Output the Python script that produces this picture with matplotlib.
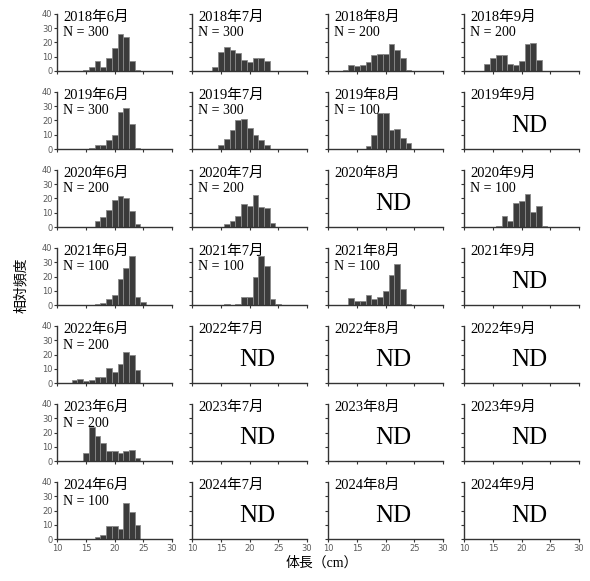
import matplotlib
matplotlib.use("Agg")
import matplotlib.pyplot as plt

# body length classes (cm, class centre)
body_length = [11, 12, 13, 14, 15, 16, 17, 18, 19, 20, 21, 22, 23, 24, 25, 26, 27, 28, 29]

# relative frequency (%) per class, one list per survey month
freq_2018_06 = [0, 0, 0, 0, 1, 3, 7, 3, 9, 16, 25.5, 24, 7, 1, 0, 0, 0, 0, 0]
freq_2018_07 = [0, 0, 0, 2.5, 13, 16.5, 14.5, 12.5, 7.5, 6, 9, 9.2, 7, 0, 0, 0, 0, 0, 0]
freq_2018_08 = [0, 0, 0.5, 4, 3.5, 4, 6.5, 11, 12, 12, 19, 14.5, 9, 1, 0, 0, 0, 0, 0]
freq_2018_09 = [0, 0, 0, 5, 9, 11.5, 11, 5, 4.5, 7, 18.5, 19.5, 7.5, 0, 0.3, 0, 0, 0, 0]
freq_2019_06 = [0, 0, 0, 0, 0, 1, 3, 3, 6, 10, 26, 29, 17.5, 1, 0, 0, 0, 0, 0]
freq_2019_07 = [0, 0, 0, 0, 2.5, 7, 13, 20.5, 21, 15, 10, 6, 3, 0, 0, 0, 0, 0, 0]
freq_2019_08 = [0, 0, 0, 0, 0, 0, 2, 10, 25, 25, 13, 14, 8, 4, 0, 0, 0, 0, 0]
freq_2020_06 = [0, 0, 0, 0, 0, 0, 4, 7, 12, 19, 21.5, 20, 11.5, 2.5, 0, 0, 0, 0, 0]
freq_2020_07 = [0, 0, 0, 0, 0, 2, 4.5, 8, 16, 15, 22.5, 14, 13, 3, 0, 0, 0, 0, 0]
freq_2020_09 = [0, 0, 0, 0, 0, 0.5, 7.5, 4.5, 16.5, 18.5, 23, 10.5, 14.5, 0.5, 0, 0, 0, 0, 0]
freq_2021_06 = [0, 0, 0, 0, 0, 0, 0.5, 1.5, 4, 7, 18, 26, 34, 6, 2, 0, 0, 0, 0]
freq_2021_07 = [0, 0, 0, 0, 0, 0.5, 0, 0.5, 6, 6, 20, 34, 27, 4, 1, 0, 0, 0, 0]
freq_2021_08 = [0, 0, 0, 5, 3, 3, 7, 4.5, 6, 10, 21, 29, 11, 0.5, 0, 0, 0, 0, 0]
freq_2022_06 = [0, 0, 2, 3, 1.5, 2, 4.5, 4.5, 10.5, 7.5, 13.5, 21.5, 19.5, 9, 0, 0, 0, 0, 0]
freq_2023_06 = [0, 0, 0, 0, 5.5, 24, 17.5, 13, 7.5, 7, 6, 7, 8, 2.5, 0.5, 0, 0, 0, 0]
freq_2024_06 = [0, 0, 0, 0, 0, 0, 1.5, 3, 9.5, 9.5, 7.5, 25, 19, 10, 0, 0, 0, 0, 0]

years = [2018, 2019, 2020, 2021, 2022, 2023, 2024]
months = [6, 7, 8, 9]

# number measured in Jun..Sep of each year (None = no data)
n_2018 = [300, 300, 200, 200]
n_2019 = [300, 300, 100, None]
n_2020 = [200, 200, None, 100]
n_2021 = [100, 100, 100, None]
n_2022 = [200, None, None, None]
n_2023 = [200, None, None, None]
n_2024 = [100, None, None, None]

x_ticks = [10, 15, 20, 25, 30]
y_ticks = [0, 10, 20, 30, 40]

freqs = {
    (2018, 6): freq_2018_06, (2018, 7): freq_2018_07,
    (2018, 8): freq_2018_08, (2018, 9): freq_2018_09,
    (2019, 6): freq_2019_06, (2019, 7): freq_2019_07, (2019, 8): freq_2019_08,
    (2020, 6): freq_2020_06, (2020, 7): freq_2020_07, (2020, 9): freq_2020_09,
    (2021, 6): freq_2021_06, (2021, 7): freq_2021_07, (2021, 8): freq_2021_08,
    (2022, 6): freq_2022_06, (2023, 6): freq_2023_06, (2024, 6): freq_2024_06,
}
sample_n = dict(zip(years, [n_2018, n_2019, n_2020, n_2021, n_2022, n_2023, n_2024]))

serif_jp = ["Liberation Serif", "Noto Sans CJK JP"]
tick_grey = "#5a5a5a"
axis_col = "#333333"

W, H = 590, 581
fig = plt.figure(figsize=(W / 100, H / 100), dpi=100)
fig.patch.set_facecolor("white")

col_left = [57.3, 192.3, 328.3, 464.3]
ax_w, ax_h = 114.7, 57.3
first_base, row_step = 71.0, 78.05

for r, year in enumerate(years):
    for c, month in enumerate(months):
        base = first_base + r * row_step
        ax = fig.add_axes([col_left[c] / W, 1 - base / H, ax_w / W, ax_h / H])

        vals = freqs.get((year, month))
        if vals is not None:
            xs = [x for x, v in zip(body_length, vals) if v > 0]
            hs = [v for v in vals if v > 0]
            ax.bar(xs, hs, width=1.0, color="#3b3b3b", edgecolor="#8a8a8a",
                   linewidth=0.6, zorder=2)

        ax.set_xlim(10, 30)
        ax.set_ylim(0, 40)
        ax.set_xticks(x_ticks)
        ax.set_yticks(y_ticks)
        for side in ("top", "right"):
            ax.spines[side].set_visible(False)
        for side in ("left", "bottom"):
            ax.spines[side].set_color(axis_col)
            ax.spines[side].set_linewidth(1.0)
        ax.tick_params(length=2.2, width=0.8, color=axis_col, pad=1.2,
                       labelsize=6, labelcolor=tick_grey)
        if c != 0:
            ax.set_yticklabels([])
        if r != len(years) - 1:
            ax.set_xticklabels([])
        ax.patch.set_alpha(0)

        ax.text(0.05, 0.88, f"{year}年{month}月", transform=ax.transAxes,
                family=serif_jp, fontsize=10.5, va="baseline", ha="left")
        n = sample_n[year][c]
        if n is not None:
            ax.text(0.05, 0.605, f"N = {n}", transform=ax.transAxes,
                    family=serif_jp, fontsize=10, va="baseline", ha="left")
        else:
            ax.text(0.565, 0.405, "ND", transform=ax.transAxes,
                    family="Liberation Serif", fontsize=18, va="center", ha="center")

fig.text(21 / W, 1 - 285 / H, "相対頻度", rotation=90, ha="center", va="center",
         family=["Noto Sans CJK JP", "DejaVu Sans"], fontsize=10)
fig.text(322 / W, 1 - 563 / H, "体長（cm）", ha="center", va="center",
         family=serif_jp, fontsize=10)

fig.savefig("out.png", dpi=100, facecolor="white")
